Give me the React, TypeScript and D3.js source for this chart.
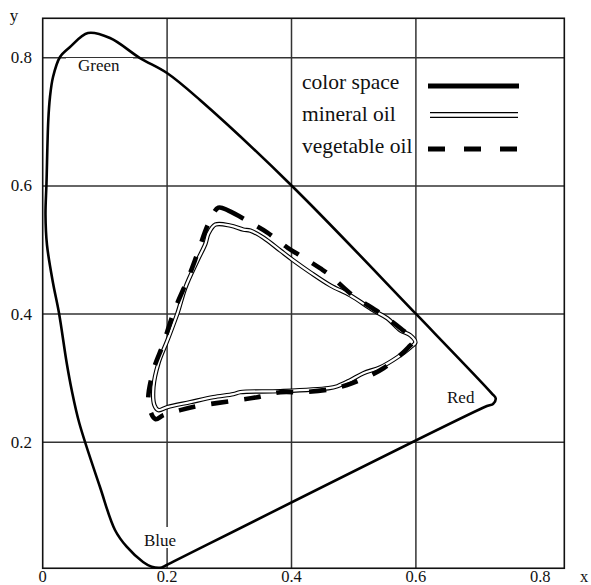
import React from 'react';
import * as d3 from 'd3';

// ---- data ----
const xTicks = [0, 0.2, 0.4, 0.6, 0.8];
const yTicks = [0.2, 0.4, 0.6, 0.8];
const xGrid = [0.2, 0.4, 0.6];
const yGrid = [0.2, 0.4, 0.6, 0.8];

// CIE colour-space boundary (spectral locus + purple line)
const locusX = [0.1994, 0.1913, 0.1752, 0.1613, 0.1350, 0.1162, 0.0921, 0.0588, 0.0466, 0.0386, 0.0262, 0.0166, 0.0069, 0.0045, 0.0061, 0.0090, 0.0117, 0.0166, 0.0278, 0.0439, 0.0728, 0.1082, 0.1564, 0.1998, 0.2529, 0.4008, 0.6002, 0.7219, 0.7283, 0.7240, 0.7143];
const locusY = [0.0086, 0.0047, 0.0059, 0.0133, 0.0371, 0.0632, 0.1303, 0.2301, 0.2816, 0.3237, 0.4017, 0.4485, 0.5078, 0.5546, 0.6045, 0.7028, 0.7387, 0.7699, 0.8011, 0.8167, 0.8385, 0.8307, 0.7995, 0.7761, 0.7340, 0.5999, 0.4002, 0.2764, 0.2686, 0.2598, 0.2566];

// mineral oil gamut
const mineralX = [0.2777, 0.3018, 0.3227, 0.3339, 0.3548, 0.3821, 0.4031, 0.4304, 0.4625, 0.4947, 0.5317, 0.5542, 0.5751, 0.5912, 0.5992, 0.5912, 0.5703, 0.5430, 0.5156, 0.4947, 0.4738, 0.4593, 0.3821, 0.3178, 0.3066, 0.2744, 0.2374, 0.2005, 0.1860, 0.1796, 0.1780, 0.1860, 0.2005, 0.2166, 0.2295, 0.2488, 0.2617, 0.2665];
const mineralY = [0.5396, 0.5380, 0.5318, 0.5302, 0.5194, 0.4991, 0.4836, 0.4649, 0.4447, 0.4291, 0.4058, 0.3933, 0.3747, 0.3669, 0.3560, 0.3482, 0.3327, 0.3171, 0.3078, 0.2969, 0.2875, 0.2844, 0.2798, 0.2782, 0.2751, 0.2704, 0.2627, 0.2549, 0.2502, 0.2580, 0.2860, 0.3233, 0.3591, 0.4011, 0.4416, 0.4836, 0.5100, 0.5256];

// vegetable oil gamut
const vegX = [0.2825, 0.2986, 0.3339, 0.3612, 0.3934, 0.4191, 0.4465, 0.4625, 0.4947, 0.5430, 0.5751, 0.5960, 0.5880, 0.5478, 0.4979, 0.4625, 0.4191, 0.3821, 0.3452, 0.3018, 0.2486, 0.2213, 0.1940, 0.1812, 0.1700, 0.1780, 0.1941, 0.2117, 0.2343, 0.2488, 0.2665];
const vegY = [0.5660, 0.5614, 0.5427, 0.5271, 0.5038, 0.4883, 0.4712, 0.4602, 0.4322, 0.4011, 0.3778, 0.3591, 0.3482, 0.3155, 0.2922, 0.2829, 0.2782, 0.2782, 0.2704, 0.2642, 0.2564, 0.2502, 0.2424, 0.2362, 0.2611, 0.3124, 0.3544, 0.4057, 0.4571, 0.4944, 0.5411];

const regionNames = ['Green', 'Red', 'Blue'];
const legendNames = ['color space', 'mineral oil', 'vegetable oil'];

const FONT = '"Liberation Serif", "Times New Roman", serif';

export default function App() {
  const W = 591, H = 585;
  const x = d3.scaleLinear().domain([0, 0.8]).range([42.7, 540.3]);
  const y = d3.scaleLinear().domain([0, 0.8]).range([570.5, 57.7]);
  const xMax = 0.8386, yMin = 0.0035, yMax = 0.8615;

  const line = d3.line<[number, number]>()
    .x(d => x(d[0])).y(d => y(d[1]))
    .curve(d3.curveCatmullRomClosed.alpha(0.5));

  const zip = (a: number[], b: number[]) => a.map((v, i) => [v, b[i]] as [number, number]);
  const locusPath = line(zip(locusX, locusY)) || '';
  const mineralPath = line(zip(mineralX, mineralY)) || '';
  const vegPath = line(zip(vegX, vegY)) || '';

  // annotation anchors (data units)
  const labelPos: [number, number][] = [[0.0568, 0.779], [0.650, 0.2613], [0.1629, 0.0382]];
  const labelBg: ([number, number, number, number] | null)[] = [[66, 58, 67, 18], null, [140, 527, 40, 21]];

  const left = x(0), right = x(xMax), top = y(yMax), bottom = y(yMin);

  const legendRows = [89, 121, 153];
  const lx0 = 428, lx1 = 519;

  return (
    <svg width={W} height={H} style={{ position: 'absolute', left: 0, top: 0, background: '#fff' }} fontFamily={FONT}>
      <rect x={0} y={0} width={W} height={H} fill="#fff" />
      {/* grid */}
      {xGrid.map(v => (
        <line key={'gx' + v} x1={x(v)} x2={x(v)} y1={top} y2={bottom} stroke="#333" strokeWidth={1.5} />
      ))}
      {yGrid.map(v => (
        <line key={'gy' + v} x1={left} x2={right} y1={y(v)} y2={y(v)} stroke="#333" strokeWidth={1.5} />
      ))}
      {/* frame */}
      <rect x={left} y={top} width={right - left} height={bottom - top} fill="none" stroke="#111" strokeWidth={1.6} />

      {/* region label backgrounds */}
      {labelBg.map((b, i) => b ? <rect key={'bg' + i} x={b[0]} y={b[1]} width={b[2]} height={b[3]} fill="#fff" /> : null)}

      {/* colour space */}
      <path d={locusPath} fill="none" stroke="#000" strokeWidth={2.6} strokeLinejoin="round" />
      {/* mineral oil: double line */}
      <path d={mineralPath} fill="none" stroke="#000" strokeWidth={4.4} strokeLinejoin="round" />
      <path d={mineralPath} fill="none" stroke="#fff" strokeWidth={2.2} strokeLinejoin="round" />
      {/* vegetable oil: dashed */}
      <path d={vegPath} fill="none" stroke="#000" strokeWidth={4.6} strokeDasharray="17,16" />

      {/* region labels */}
      {regionNames.map((n, i) => (
        <text key={n} x={x(labelPos[i][0])} y={y(labelPos[i][1])} fontSize={17} fill="#111">{n}</text>
      ))}

      {/* axis tick labels */}
      {xTicks.map(v => (
        <text key={'tx' + v} x={x(v)} y={581.5} fontSize={16.5} textAnchor="middle" fill="#111">{v === 0 ? '0' : v.toFixed(1)}</text>
      ))}
      {yTicks.map(v => (
        <text key={'ty' + v} x={32} y={y(v) + 5.5} fontSize={17} textAnchor="end" fill="#111">{v.toFixed(1)}</text>
      ))}
      <text x={584} y={581.5} fontSize={16.5} textAnchor="middle" fill="#111">x</text>
      <text x={14} y={21} fontSize={17} textAnchor="middle" fill="#111">y</text>

      {/* legend */}
      {legendNames.map((n, i) => (
        <text key={n} x={302} y={legendRows[i]} fontSize={21.5} fill="#111">{n}</text>
      ))}
      <line x1={lx0} x2={lx1} y1={86} y2={86} stroke="#000" strokeWidth={5} />
      <line x1={lx0 + 2} x2={lx1 - 1} y1={115} y2={115} stroke="#000" strokeWidth={6} />
      <line x1={lx0 + 2} x2={lx1 - 1} y1={115} y2={115} stroke="#fff" strokeWidth={3.4} />
      <line x1={lx0} x2={lx1} y1={149} y2={149} stroke="#000" strokeWidth={5} strokeDasharray="17,19" />
    </svg>
  );
}
